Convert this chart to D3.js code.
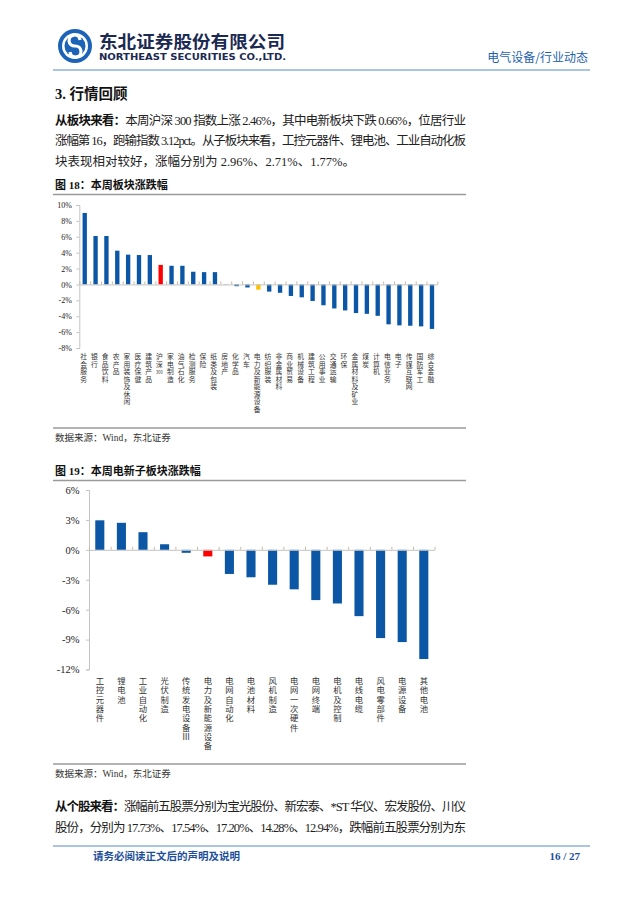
<!DOCTYPE html>
<html lang="zh-CN">
<head>
<meta charset="UTF-8">
<title>电气设备/行业动态</title>
<style>
  body { margin: 0; background: #fff; }
  svg { display: block; }
  text { font-family: "Liberation Serif", "Noto Sans CJK SC", serif; }
  .sans { font-family: "Noto Sans CJK SC", sans-serif; }
</style>
</head>
<body>
<script src="https://cdnjs.cloudflare.com/ajax/libs/d3/7.8.5/d3.min.js"></script>
<script>
'use strict';

// 图18：本周板块涨跌幅 (%)
const sectors = ['社会服务', '银行', '食品饮料', '农产品', '家用装饰及休闲', '医疗保健', '建筑产品',
  '沪深300', '家电制造', '油气石化', '检测服务', '保险', '纸类及包装', '房地产', '化学品', '汽车',
  '电力及新能源设备', '纺织服装', '非金属材料', '商业贸易', '机械设备', '建筑工程', '公用事业',
  '交通运输', '环保', '金属材料及矿业', '煤炭', '计算机', '电信业务', '电子', '传媒互联网',
  '国防军工', '综合金融'];
const sectorChg = [9.0, 6.1, 6.1, 4.25, 3.75, 3.7, 3.7, 2.46, 2.35, 2.35, 1.6, 1.55, 1.55, 0.03,
  -0.22, -0.38, -0.66, -0.9, -1.05, -1.45, -1.62, -2.08, -2.62, -3.02, -3.27, -3.6, -3.7, -3.95,
  -5.02, -5.15, -5.2, -5.28, -5.6];
const ticks18 = [10, 8, 6, 4, 2, 0, -2, -4, -6, -8];

// 图19：本周电新子板块涨跌幅 (%)
const subSectors = ['工控元器件', '锂电池', '工业自动化', '光伏制造', '传统发电设备Ⅲ', '电力及新能源设备',
  '电网自动化', '电池材料', '风机制造', '电网一次硬件', '电网终端', '电机及控制', '电线电缆',
  '风电零部件', '电源设备', '其他电池'];
const subChg = [2.96, 2.71, 1.77, 0.56, -0.3, -0.66, -2.42, -2.75, -3.5, -3.96, -5.04, -5.38,
  -6.65, -8.85, -9.25, -10.95];
const ticks19 = [6, 3, 0, -3, -6, -9, -12];

const BLUE = '#0b57a6';
const svg = d3.select('body').append('svg')
  .attr('width', 640)
  .attr('height', 905);

// ---------- 页眉 ----------
const logo = svg.append('g').attr('transform', 'translate(75,46)');
logo.append('circle').attr('r', 17).attr('fill', '#1c63b7');
logo.append('circle').attr('r', 13).attr('fill', '#fff');
logo.append('circle').attr('r', 10.5).attr('fill', '#1c63b7');
logo.append('path')
  .attr('d', 'M5,-6 A5.5,5.5 0 1 0 0,0 A5.5,5.5 0 1 1 -5,6')
  .attr('fill', 'none').attr('stroke', '#fff').attr('stroke-width', 3.2);

svg.append('text').attr('class', 'sans')
  .attr('x', 99).attr('y', 48)
  .attr('font-size', 17).attr('font-weight', 'bold').attr('fill', '#1b2a52')
  .attr('textLength', 186).attr('lengthAdjust', 'spacingAndGlyphs')
  .text('东北证券股份有限公司');
svg.append('text')
  .attr('x', 99).attr('y', 59.5)
  .style('font-family', '"DejaVu Sans", sans-serif')
  .attr('font-size', 8).attr('font-weight', 'bold').attr('fill', '#1b2a52')
  .attr('textLength', 187).attr('lengthAdjust', 'spacingAndGlyphs')
  .text('NORTHEAST SECURITIES CO.,LTD.');
svg.append('text').attr('class', 'sans')
  .attr('x', 588).attr('y', 62).attr('text-anchor', 'end')
  .attr('font-size', 12).attr('fill', '#1d5fae')
  .text('电气设备/行业动态');
svg.append('line')
  .attr('x1', 53).attr('x2', 590).attr('y1', 70).attr('y2', 70)
  .attr('stroke', '#8fb0d8').attr('stroke-width', 1.5);

// ---------- 正文 ----------
svg.append('text')
  .attr('x', 55).attr('y', 99)
  .attr('font-size', 14.5).attr('font-weight', 'bold').attr('fill', '#111')
  .text('3.  行情回顾');

function para(lines, y0, lead) {
  lines.forEach(function(l, i) {
    const t = svg.append('text')
      .attr('x', 55).attr('y', y0 + i * 20.5)
      .attr('font-size', 12.5).attr('fill', '#222');
    if (l.full) t.attr('textLength', 411).attr('lengthAdjust', 'spacing');
    if (i === 0) t.append('tspan').attr('font-weight', 'bold').attr('fill', '#111').text(lead);
    t.append('tspan').text(l.s);
  });
}

para([
  { s: '本周沪深 300 指数上涨 2.46%，其中电新板块下跌 0.66%，位居行业', full: true },
  { s: '涨幅第 16，跑输指数 3.12pct。从子板块来看，工控元器件、锂电池、工业自动化板', full: true },
  { s: '块表现相对较好，涨幅分别为 2.96%、2.71%、1.77%。', full: false }
], 124.5, '从板块来看：');

para([
  { s: '涨幅前五股票分别为宝光股份、新宏泰、*ST 华仪、宏发股份、川仪', full: true },
  { s: '股份，分别为 17.73%、17.54%、17.20%、14.28%、12.94%，跌幅前五股票分别为东', full: true }
], 811, '从个股来看：');

// ---------- 图表框 ----------
function frame(title, yTitle, yBottom) {
  svg.append('text')
    .attr('x', 55).attr('y', yTitle)
    .attr('font-size', 11).attr('font-weight', 'bold').attr('fill', '#111')
    .text(title);
  [yTitle + 5.5, yBottom].forEach(function(y) {
    svg.append('line')
      .attr('x1', 53).attr('x2', 466).attr('y1', y).attr('y2', y)
      .attr('stroke', '#9a9a9a').attr('stroke-width', 1.5);
  });
  svg.append('text')
    .attr('x', 55).attr('y', yBottom + 13)
    .attr('font-size', 9.5).attr('fill', '#333')
    .text('数据来源：Wind，东北证券');
}

function barChart(o) {
  const g = svg.append('g');
  const x = d3.scaleBand().domain(o.cats).range([o.x0, o.x1]);
  const y = d3.scaleLinear().domain(o.domain).range([o.yBot, o.yTop]);
  const bw = x.bandwidth() * o.barRatio;

  // 柱子
  g.selectAll('rect')
    .data(o.cats.map((c, i) => ({ c: c, v: o.vals[i] })))
    .enter()
    .append('rect')
      .attr('x', d => x(d.c) + (x.bandwidth() - bw) / 2)
      .attr('width', bw)
      .attr('y', d => y(Math.max(0, d.v)))
      .attr('height', d => Math.abs(y(d.v) - y(0)))
      .attr('fill', d => o.colors[d.c] || BLUE);

  // y轴
  const ya = g.append('g')
    .attr('transform', 'translate(' + o.x0 + ',0)')
    .call(d3.axisLeft(y).tickValues(o.ticks).tickSize(3).tickPadding(o.tickPad)
      .tickFormat(d => d + '%'));
  ya.select('.domain').attr('stroke', '#c4c4c4');
  ya.selectAll('.tick line').attr('stroke', '#c4c4c4');
  ya.selectAll('.tick text')
    .attr('font-family', null)
    .style('font-family', '"Liberation Serif", serif')
    .attr('font-size', o.tickFont).attr('fill', '#222');

  // x轴（零线，刻度在类别分界处）
  const xb = d3.scaleLinear().domain([0, o.cats.length]).range([o.x0, o.x1]);
  const xa = g.append('g')
    .attr('transform', 'translate(0,' + y(0) + ')')
    .call(d3.axisBottom(xb).tickValues(d3.range(o.cats.length + 1))
      .tickSizeInner(-3).tickSizeOuter(0).tickFormat(''));
  xa.select('.domain').attr('stroke', '#c4c4c4');
  xa.selectAll('.tick line').attr('stroke', '#c9b9a0');

  // 竖排类别标签（逐字）
  o.cats.forEach(function(c) {
    const cx = x(c) + x.bandwidth() / 2 - o.labelShift;
    c.match(/\d+|./gu).forEach(function(t, j) {
      const tx = g.append('text').attr('class', 'sans')
        .attr('x', cx).attr('y', o.labelY + j * o.labelStep)
        .attr('text-anchor', 'middle')
        .attr('font-size', o.labelFont).attr('fill', '#333')
        .text(t);
      if (/\d/.test(t)) {
        tx.attr('font-size', o.labelFont * 0.8)
          .attr('textLength', o.labelFont).attr('lengthAdjust', 'spacingAndGlyphs');
      }
    });
  });
}

frame('图 18：本周板块涨跌幅', 189, 428);
barChart({
  cats: sectors, vals: sectorChg, ticks: ticks18, domain: [-8, 10],
  x0: 79.3, x1: 437.4, yTop: 205, yBot: 348,
  barRatio: 0.4, tickFont: 8, tickPad: 4.5,
  labelY: 359, labelStep: 7.5, labelFont: 6.8, labelShift: 1.2,
  colors: { '沪深300': '#ff0000', '电力及新能源设备': '#ffc000' }
});

frame('图 19：本周电新子板块涨跌幅', 475, 764);
barChart({
  cats: subSectors, vals: subChg, ticks: ticks19, domain: [-12, 6],
  x0: 89, x1: 434.6, yTop: 490, yBot: 669.5,
  barRatio: 0.42, tickFont: 10.5, tickPad: 6.5,
  labelY: 684, labelStep: 9.3, labelFont: 8.3, labelShift: 0,
  colors: { '电力及新能源设备': '#ff0000' }
});

// ---------- 页脚 ----------
svg.append('line')
  .attr('x1', 53).attr('x2', 590).attr('y1', 846).attr('y2', 846)
  .attr('stroke', '#8fb0d8').attr('stroke-width', 1.5);
svg.append('text').attr('class', 'sans')
  .attr('x', 93).attr('y', 860)
  .attr('font-size', 10.5).attr('font-weight', 'bold').attr('fill', '#1d4f9c')
  .text('请务必阅读正文后的声明及说明');
svg.append('text')
  .attr('x', 580).attr('y', 860).attr('text-anchor', 'end')
  .attr('font-size', 11).attr('font-weight', 'bold').attr('fill', '#1d4f9c')
  .text('16 / 27');
</script>
</body>
</html>
